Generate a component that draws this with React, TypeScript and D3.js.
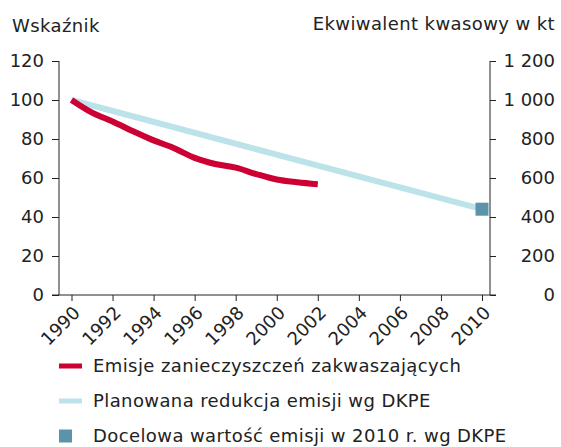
import React, { useEffect, useRef } from 'react';
import * as d3 from 'd3';

// Emisje zanieczyszczeń zakwaszających (index, 1990 = 100)
const emisjeYears = [1990, 1991, 1992, 1993, 1994, 1995, 1996, 1997, 1998, 1999, 2000, 2001, 2002];
const emisjeValues = [100, 93.5, 89, 84, 79.3, 75.3, 70.3, 67.2, 65.3, 62, 59.2, 57.8, 56.8];

// Planowana redukcja emisji wg DKPE
const planYears = [1990, 2010];
const planValues = [100, 44];

// Docelowa wartość emisji w 2010 r. wg DKPE
const targetYear = 2010;
const targetValue = 44;

const leftTicks = [0, 20, 40, 60, 80, 100, 120];
const rightTicks = [0, 200, 400, 600, 800, 1000, 1200];
const yearTicks = [1990, 1992, 1994, 1996, 1998, 2000, 2002, 2004, 2006, 2008, 2010];

const legendLabels = [
  'Emisje zanieczyszczeń zakwaszających',
  'Planowana redukcja emisji wg DKPE',
  'Docelowa wartość emisji w 2010 r. wg DKPE',
];

const RED = '#cc0033';
const LIGHT = '#bde3ea';
const SQUARE = '#5b93aa';
const FONT = '"DejaVu Sans", Verdana, sans-serif';
const FS = 18;
const LS = 0.4;

const App = () => {
  const svgRef = useRef<SVGSVGElement>(null);

  useEffect(() => {
    const width = 561;
    const height = 447;
    const axisLeftX = 59;
    const axisRightX = 490;
    const bottomY = 295;
    const topY = 61;

    const x = d3.scaleLinear().domain([1990, 2010]).range([71.5, 482]);
    const yL = d3.scaleLinear().domain([0, 120]).range([bottomY, topY]);
    const yR = d3.scaleLinear().domain([0, 1200]).range([bottomY, topY]);

    const svg = d3.select(svgRef.current)
      .attr('width', width)
      .attr('height', height)
      .attr('viewBox', [0, 0, width, height])
      .style('font-family', FONT);
    svg.selectAll('*').remove();

    const fmtSpace = (v: number) => d3.format(',')(v).replace(/,/g, ' ');

    // titles
    svg.append('text').attr('x', 12).attr('y', 32).attr('font-size', FS).attr('letter-spacing', LS).attr('fill', '#222').text('Wskaźnik');
    svg.append('text').attr('x', 555).attr('y', 30).attr('text-anchor', 'end').attr('font-size', FS).attr('letter-spacing', LS).attr('fill', '#222')
      .text('Ekwiwalent kwasowy w kt');

    // left axis
    const gL = svg.append('g')
      .attr('transform', `translate(${axisLeftX},0)`)
      .call(d3.axisLeft(yL).tickValues(leftTicks).tickSize(7).tickSizeOuter(0).tickPadding(8));
    gL.select('.domain').remove();

    // right axis
    const gR = svg.append('g')
      .attr('transform', `translate(${axisRightX},0)`)
      .call(d3.axisRight(yR).tickValues(rightTicks).tickSize(6).tickSizeOuter(0)
        .tickFormat((d) => fmtSpace(d as number)));
    gR.select('.domain').remove();
    gR.selectAll('text').attr('text-anchor', 'end').attr('x', 65);

    // bottom axis
    const gB = svg.append('g')
      .attr('transform', `translate(0,${bottomY})`)
      .call(d3.axisBottom(x).tickValues(yearTicks).tickSize(6).tickSizeOuter(0).tickFormat(d3.format('d')));
    gB.select('.domain').remove();
    gB.selectAll('text')
      .attr('text-anchor', 'end')
      .attr('y', 0)
      .attr('dy', 0)
      .attr('transform', 'translate(9,19) rotate(-45)');

    svg.selectAll('.tick text').attr('font-size', FS).attr('fill', '#222').attr('font-family', FONT);
    svg.selectAll('.tick line').attr('stroke', '#222');

    // axis lines
    svg.append('line').attr('x1', axisLeftX).attr('x2', axisLeftX).attr('y1', topY).attr('y2', bottomY).attr('stroke', '#222');
    svg.append('line').attr('x1', axisRightX).attr('x2', axisRightX).attr('y1', topY).attr('y2', bottomY).attr('stroke', '#222');
    svg.append('line').attr('x1', axisLeftX - 7).attr('x2', axisRightX + 6).attr('y1', bottomY).attr('y2', bottomY).attr('stroke', '#222');

    // lines
    const planData = planYears.map((yr, i) => [yr, planValues[i]] as [number, number]);
    const emisjeData = emisjeYears.map((yr, i) => [yr, emisjeValues[i]] as [number, number]);

    const line = d3.line<[number, number]>().x((d) => x(d[0])).y((d) => yL(d[1]));
    const curved = d3.line<[number, number]>().x((d) => x(d[0])).y((d) => yL(d[1])).curve(d3.curveMonotoneX);

    svg.append('path').datum(planData).attr('d', line).attr('fill', 'none').attr('stroke', LIGHT).attr('stroke-width', 6);
    svg.append('path').datum(emisjeData).attr('d', curved).attr('fill', 'none').attr('stroke', RED).attr('stroke-width', 6);

    const sq = 13;
    svg.append('rect')
      .attr('x', x(targetYear) - sq / 2)
      .attr('y', yL(targetValue) - sq / 2)
      .attr('width', sq)
      .attr('height', sq)
      .attr('fill', SQUARE);

    // legend
    const legendY = [366, 401, 436];
    const lg = svg.append('g');
    lg.append('line').attr('x1', 59).attr('x2', 82).attr('y1', legendY[0]).attr('y2', legendY[0]).attr('stroke', RED).attr('stroke-width', 5);
    lg.append('line').attr('x1', 59).attr('x2', 82).attr('y1', legendY[1]).attr('y2', legendY[1]).attr('stroke', LIGHT).attr('stroke-width', 5);
    lg.append('rect').attr('x', 59).attr('y', legendY[2] - 6.5).attr('width', 13).attr('height', 13).attr('fill', SQUARE);
    legendLabels.forEach((t, i) => {
      lg.append('text').attr('x', 93).attr('y', legendY[i] + 6).attr('font-size', FS).attr('letter-spacing', LS).attr('fill', '#222').text(t);
    });
  }, []);

  return <svg ref={svgRef} style={{ position: 'absolute', left: 0, top: 0 }}></svg>;
};

export default App;
